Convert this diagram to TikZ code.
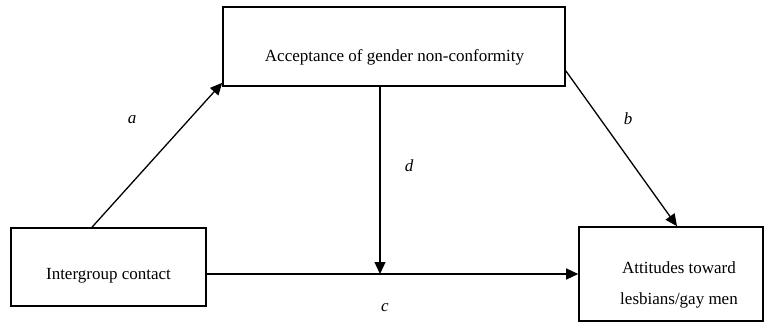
\documentclass[tikz,border=0pt]{standalone}
\usepackage{fontspec}
\setmainfont{Liberation Serif}
\usetikzlibrary{arrows.meta}

\tikzset{
  box/.style={draw, line width=1.6pt, rectangle, inner sep=0pt},
  boxtext/.style={font=\fontsize{17}{31}\selectfont, align=center, inner sep=0pt},
  path label/.style={font=\fontsize{17}{20}\selectfont\itshape, inner sep=0pt},
  conn/.style={line width=1.3pt, -{Triangle[length=12pt, width=11pt]}}
}

\begin{document}
\begin{tikzpicture}[x=1pt, y=-1pt]
    \useasboundingbox (0,0) rectangle (766,324);

    % Boxes for the three variables
    \node[box, minimum width=342pt, minimum height=79pt] (gnc) at (394,46.5) {};
    \node[box, minimum width=195pt, minimum height=78pt] (ic) at (108.5,267) {};
    \node[box, minimum width=184pt, minimum height=94pt] (att) at (671,274) {};

    % Texts sit a little below the middle of each box
    \node[boxtext] (gnctext) at (394.5,57) {Acceptance of gender non-conformity};
    \node[boxtext] (ictext) at (108.5,276) {Intergroup contact};
    \node[boxtext] (atttext) at (679,285) {Attitudes toward\\lesbians/gay men};

    % Point where the moderating path meets the direct path
    \coordinate (join) at (380,274);

    % Paths
    \draw[conn] ([xshift=-16.5pt]ic.north) -- ([yshift=4pt]gnc.south west);
    \draw[conn] ([yshift=16pt]gnc.south east) -- ([xshift=6pt]att.north);
    \draw[line width=1.3pt] (ic.east |- join) -- (join);
    \draw[conn] (join) -- (att.west |- join);
    \draw[conn] (gnc.south -| join) -- (join);

    % Path labels
    \node[path label] (la) at (132,120) {a};
    \node[path label] (lb) at (628,119) {b};
    \node[path label] (ld) at (409,166) {d};
    \node[path label] (lc) at (385,308) {c};
\end{tikzpicture}
\end{document}
